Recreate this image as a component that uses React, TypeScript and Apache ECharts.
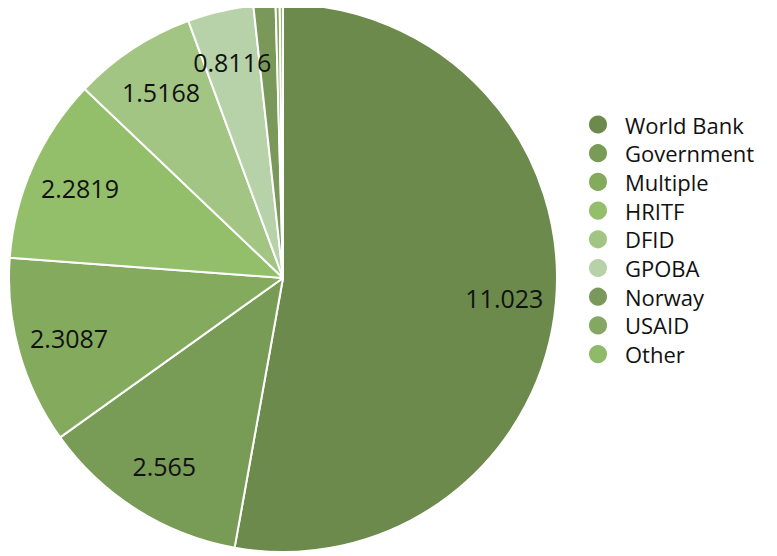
import React, { useEffect, useRef } from "react";
import * as echarts from "echarts";

const categories = ["World Bank", "Government", "Multiple", "HRITF", "DFID", "GPOBA", "Norway", "USAID", "Other"];
const values = [11.023, 2.565, 2.3087, 2.2819, 1.5168, 0.8116, 0.27, 0.05, 0.04];
const labelShown = [true, true, true, true, true, true, false, false, false];
const colors = ["#6b8a4b", "#789b55", "#84aa5d", "#93bf6b", "#a2c584", "#b7d1a9", "#7a985a", "#84a862", "#8fba6a"];

export default function App() {
  const ref = useRef<HTMLDivElement>(null);
  useEffect(() => {
    if (!ref.current) return;
    const chart = echarts.init(ref.current, null, { renderer: "svg" });
    const R = 274;
    const font = "Open Sans";
    const data = categories.map((name, i) => ({ name, value: values[i], itemStyle: { color: colors[i] } }));
    const labelData = categories.map((name, i) => ({
      name,
      value: values[i],
      label: { show: labelShown[i] },
    }));
    chart.setOption({
      animation: false,
      legend: {
        orient: "vertical",
        left: 574,
        top: 99,
        icon: "circle",
        itemWidth: 44,
        itemHeight: 20,
        itemGap: 3.7,
        data: categories,
        selectedMode: false,
        textStyle: { fontFamily: font, fontSize: 22, color: "#111", lineHeight: 25 },
      },
      series: [
        {
          type: "pie",
          center: [275, 270],
          radius: [0, R],
          startAngle: 90,
          clockwise: true,
          silent: true,
          data,
          label: { show: false },
          labelLine: { show: false },
          itemStyle: { borderColor: "#ffffff", borderWidth: 2 },
          emphasis: { disabled: true },
        },
        {
          type: "pie",
          center: [275, 270],
          radius: [R * 0.6, R],
          startAngle: 90,
          clockwise: true,
          silent: true,
          data: labelData,
          itemStyle: { color: "rgba(0,0,0,0)" },
          label: { show: true, position: "inside", formatter: "{c}", color: "#111", fontFamily: font, fontSize: 25 },
          labelLine: { show: false },
          emphasis: { disabled: true },
        },
      ],
    });
    return () => chart.dispose();
  }, []);
  return <div ref={ref} style={{ width: 769, height: 548 }} />;
}
